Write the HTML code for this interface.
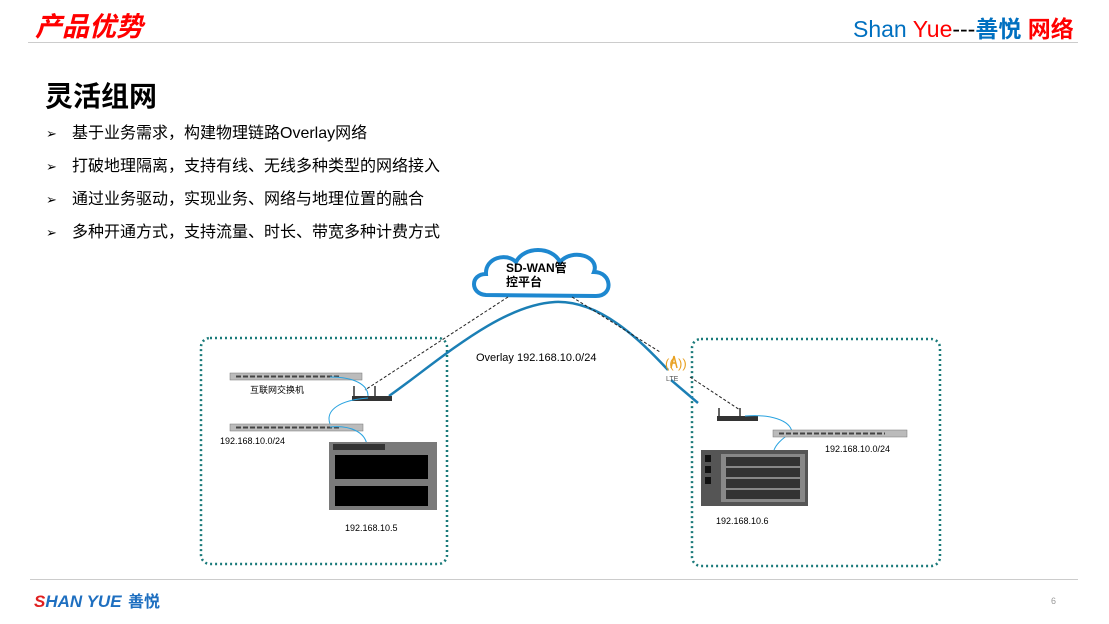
<!DOCTYPE html>
<html><head><meta charset="utf-8"><style>
body{margin:0;width:1109px;height:624px;background:#fff;position:relative;overflow:hidden;font-family:"Liberation Sans","Noto Sans CJK SC",sans-serif;}
.a{position:absolute;white-space:nowrap;}
.b div{height:33px;line-height:33px;}
</style></head><body>
<div class="a" style="left:35px;top:5px;font-size:27px;font-weight:bold;font-style:italic;color:#f00;">产品优势</div>
<div class="a" style="left:853px;top:10px;font-size:23px;"><span style="color:#0070c0">Shan </span><span style="color:#f00">Yue</span><span style="color:#000">---</span><b style="color:#0070c0">善悦</b> <b style="color:#f00">网络</b></div>
<div class="a" style="left:28px;top:42px;width:1050px;height:1px;background:#ccc"></div>
<div class="a" style="left:45px;top:75px;font-size:28px;font-weight:bold;color:#000">灵活组网</div>
<div class="a b" style="left:46px;top:117px;font-size:16px;color:#000">
<div><span style="font-size:13px;display:inline-block;width:26px">➢</span>基于业务需求，构建物理链路Overlay网络</div>
<div><span style="font-size:13px;display:inline-block;width:26px">➢</span>打破地理隔离，支持有线、无线多种类型的网络接入</div>
<div><span style="font-size:13px;display:inline-block;width:26px">➢</span>通过业务驱动，实现业务、网络与地理位置的融合</div>
<div><span style="font-size:13px;display:inline-block;width:26px">➢</span>多种开通方式，支持流量、时长、带宽多种计费方式</div>
</div>
<svg class="a" style="left:0;top:0" width="1109" height="624">
<rect x="201" y="338" width="246" height="226" rx="9" fill="none" stroke="#1a7a7a" stroke-width="2.5" stroke-dasharray="2 3"/>
<rect x="692" y="339" width="248" height="227" rx="9" fill="none" stroke="#1a7a7a" stroke-width="2.5" stroke-dasharray="2 3"/>
<path d="M486 295 C470 294 470 274 486 274 C485 258 506 252 516 262 C524 246 552 246 560 262 C572 248 600 256 594 272 C612 272 614 296 596 296 Z" fill="#fff" stroke="#1e88d0" stroke-width="4"/>
<text x="506" y="272" font-size="12" font-weight="bold" fill="#000">SD-WAN管</text>
<text x="506" y="286" font-size="12" font-weight="bold" fill="#000">控平台</text>
<path d="M389 396 C440 360 500 305 555 302 C600 300 640 340 668 370" fill="none" stroke="#1b7fb5" stroke-width="2.5"/>
<path d="M671 380 L698 403" stroke="#1b7fb5" stroke-width="2.5"/>
<path d="M508 297 L365 390" stroke="#222" stroke-width="1" stroke-dasharray="3 2"/>
<path d="M572 297 L660 352" stroke="#222" stroke-width="1" stroke-dasharray="3 2"/>
<path d="M690 377 L740 410" stroke="#222" stroke-width="1" stroke-dasharray="3 2"/>
<text x="476" y="361" font-size="11" fill="#000">Overlay  192.168.10.0/24</text>
<text x="665" y="368" font-size="13" fill="#e8a020">((</text><text x="678" y="368" font-size="13" fill="#e8a020">))</text>
<path d="M671 368 L674 356 L677 368 M672 363 L676 363" stroke="#e8a020" stroke-width="1.5" fill="none"/>
<text x="666" y="381" font-size="7" fill="#555">LTE</text>
<rect x="230" y="373" width="132" height="7" fill="#bbb" stroke="#777" stroke-width=".5"/>
<path d="M236 376.5 H340" stroke="#444" stroke-width="2" stroke-dasharray="5 2"/>
<text x="250" y="393" font-size="9" fill="#000">互联网交换机</text>
<rect x="352" y="396" width="40" height="5" fill="#333"/>
<path d="M354 396 V386 M375 396 V386" stroke="#333" stroke-width="1.5"/>
<path d="M330 377 C355 377 368 385 368 396 M368 398 C340 400 325 410 330 424" stroke="#29a3e0" fill="none" stroke-width="1"/>
<rect x="230" y="424" width="133" height="7" fill="#bbb" stroke="#777" stroke-width=".5"/>
<path d="M236 427.5 H340" stroke="#444" stroke-width="2" stroke-dasharray="5 2"/>
<path d="M330 427 C350 425 365 432 367 445" stroke="#29a3e0" fill="none" stroke-width="1"/>
<text x="220" y="444" font-size="9" fill="#000">192.168.10.0/24</text>
<rect x="329" y="442" width="108" height="68" fill="#7a7a7a"/>
<rect x="335" y="455" width="93" height="24" fill="#000"/>
<rect x="335" y="486" width="93" height="20" fill="#000"/>
<rect x="333" y="444" width="52" height="6" fill="#333"/>
<text x="345" y="531" font-size="9" fill="#000">192.168.10.5</text>
<rect x="717" y="416" width="41" height="5" fill="#333"/>
<path d="M719 416 V408 M740 416 V408" stroke="#333" stroke-width="1.5"/>
<path d="M745 416 C770 414 790 420 792 432 M792 432 C780 440 776 445 774 450" stroke="#29a3e0" fill="none" stroke-width="1"/>
<rect x="773" y="430" width="134" height="7" fill="#bbb" stroke="#777" stroke-width=".5"/>
<path d="M779 433.5 H885" stroke="#444" stroke-width="2" stroke-dasharray="5 2"/>
<text x="825" y="452" font-size="9" fill="#000">192.168.10.0/24</text>
<rect x="701" y="450" width="107" height="56" fill="#555"/>
<rect x="721" y="454" width="84" height="48" fill="#888"/>
<g fill="#333"><rect x="726" y="457" width="74" height="9"/><rect x="726" y="468" width="74" height="9"/><rect x="726" y="479" width="74" height="9"/><rect x="726" y="490" width="74" height="9"/></g>
<g fill="#111"><rect x="705" y="455" width="6" height="7"/><rect x="705" y="466" width="6" height="7"/><rect x="705" y="477" width="6" height="7"/></g>
<text x="716" y="524" font-size="9" fill="#000">192.168.10.6</text>
<rect x="30" y="579" width="1048" height="1" fill="#ccc"/>
<text x="34" y="607" font-size="17" font-weight="bold" font-style="italic" fill="#e02020">S<tspan fill="#1e6fc0">HAN YUE</tspan></text>
<text x="128" y="607" font-size="16" font-weight="bold" fill="#1e6fc0">善悦</text>
<text x="1051" y="604" font-size="9" fill="#999">6</text>
</svg>
</body></html>
